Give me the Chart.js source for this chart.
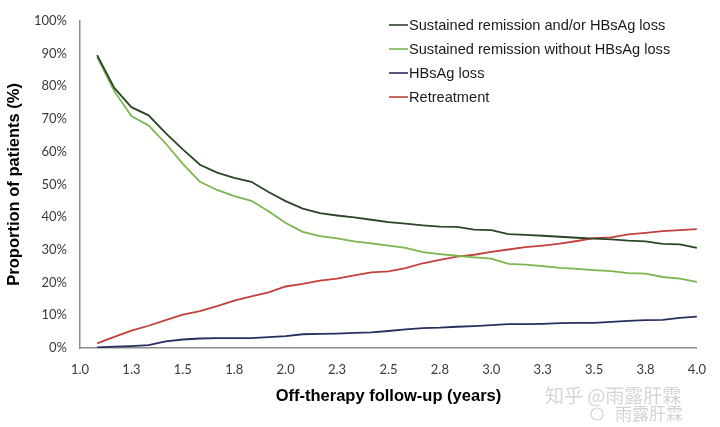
<!DOCTYPE html>
<html>
<head>
<meta charset="utf-8">
<script src="https://cdn.jsdelivr.net/npm/chart.js@4.4.1/dist/chart.umd.min.js"></script>
<style>
  html, body { margin: 0; padding: 0; background: #fff; }
  #chartContainer { width: 720px; height: 427px; }
</style>
</head>
<body>
<div id="chartContainer"><canvas id="followUpChart"></canvas></div>
<script>
// months after stopping therapy (one point per month)
const followUpMonths = [13, 14, 15, 16, 17, 18, 19, 20, 21, 22, 23, 24,
  25, 26, 27, 28, 29, 30, 31, 32, 33, 34, 35, 36,
  37, 38, 39, 40, 41, 42, 43, 44, 45, 46, 47, 48];

const remissionOrLoss = [89.5, 79.5, 73.6, 71.1, 65.7, 60.7, 56.0, 53.6, 52.0, 50.8, 47.7, 44.9,
  42.6, 41.2, 40.5, 39.9, 39.2, 38.5, 38.0, 37.5, 37.1, 37.0, 36.2, 36.0,
  34.8, 34.6, 34.3, 34.0, 33.7, 33.4, 33.2, 32.8, 32.6, 31.8, 31.7, 30.6];

const remissionNoLoss = [88.9, 78.5, 70.9, 68.0, 62.5, 56.3, 50.8, 48.3, 46.4, 45.0, 41.8, 38.2,
  35.5, 34.2, 33.5, 32.6, 32.0, 31.3, 30.6, 29.3, 28.7, 28.2, 27.7, 27.3,
  25.7, 25.5, 25.0, 24.5, 24.2, 23.8, 23.5, 22.9, 22.7, 21.7, 21.2, 20.2];

const hbsagLoss = [0.2, 0.4, 0.6, 0.9, 2.0, 2.6, 2.9, 3.0, 3.0, 3.0, 3.3, 3.6,
  4.2, 4.3, 4.4, 4.6, 4.8, 5.2, 5.7, 6.1, 6.2, 6.5, 6.7, 7.0,
  7.3, 7.3, 7.4, 7.6, 7.7, 7.7, 8.0, 8.3, 8.5, 8.6, 9.2, 9.6];

const retreatment = [1.4, 3.4, 5.3, 6.8, 8.5, 10.2, 11.3, 12.8, 14.5, 15.8, 17.0, 18.8,
  19.6, 20.6, 21.2, 22.2, 23.1, 23.4, 24.4, 25.9, 26.9, 27.9, 28.5, 29.4,
  30.1, 30.8, 31.3, 31.9, 32.7, 33.6, 33.8, 34.7, 35.2, 35.7, 36.0, 36.3];

const seriesNames = [
  "Sustained remission and/or HBsAg loss",
  "Sustained remission without HBsAg loss",
  "HBsAg loss",
  "Retreatment",
];

const xTicks = [1.0, 1.25, 1.5, 1.75, 2.0, 2.25, 2.5, 2.75, 3.0, 3.25, 3.5, 3.75, 4.0];
const xTickLabels = ["1.0", "1.3", "1.5", "1.8", "2.0", "2.3", "2.5", "2.8", "3.0", "3.3", "3.5", "3.8", "4.0"];
const yTickLabels = ["0%", "10%", "20%", "30%", "40%", "50%", "60%", "70%", "80%", "90%", "100%"];

function toPoints(values) {
  return values.map((v, i) => ({ x: followUpMonths[i] / 12, y: v }));
}

const colors = ["#2b4527", "#7db54f", "#262f5e", "#c2413c"];
const allSeries = [remissionOrLoss, remissionNoLoss, hbsagLoss, retreatment];

// legend drawn inside the plot, top right
const innerLegend = {
  id: "innerLegend",
  afterDraw(chart) {
    const ctx = chart.ctx;
    ctx.save();
    ctx.font = "14.6px 'Liberation Sans', Arial, sans-serif";
    ctx.textBaseline = "middle";
    chart.data.datasets.forEach((ds, i) => {
      const y = 25 + i * 24;
      ctx.strokeStyle = ds.borderColor;
      ctx.lineWidth = 1.6;
      ctx.beginPath();
      ctx.moveTo(389, y);
      ctx.lineTo(408, y);
      ctx.stroke();
      ctx.fillStyle = "#1a1a1a";
      ctx.fillText(ds.label, 409, y + 1);
    });
    ctx.restore();
  },
};

// faint watermark at the bottom right
const watermark = {
  id: "watermark",
  afterDraw(chart) {
    const ctx = chart.ctx;
    ctx.save();
    ctx.fillStyle = "rgba(160,160,160,0.45)";
    ctx.textBaseline = "middle";
    ctx.font = "19px 'Noto Sans CJK SC', sans-serif";
    ctx.fillText("知乎 @雨露肝霖", 545, 396);
    ctx.font = "17px 'Noto Sans CJK SC', sans-serif";
    ctx.fillText("雨露肝霖", 615, 414);
    ctx.strokeStyle = "rgba(160,160,160,0.45)";
    ctx.lineWidth = 1.2;
    ctx.beginPath();
    ctx.arc(597, 414, 6, 0, Math.PI * 2);
    ctx.stroke();
    ctx.restore();
  },
};

const ctx = document.getElementById("followUpChart").getContext("2d");
window.chart = new Chart(ctx, {
  type: "line",
  data: {
    datasets: allSeries.map((vals, i) => ({
      label: seriesNames[i],
      data: toPoints(vals),
      borderColor: colors[i],
      backgroundColor: colors[i],
      borderWidth: 1.8,
      pointRadius: 0,
      tension: 0,
      fill: false,
    })),
  },
  options: {
    responsive: true,
    maintainAspectRatio: false,
    animation: false,
    layout: { padding: { top: 11, right: 22, bottom: 0, left: 0 } },
    plugins: {
      legend: { display: false },
      tooltip: { enabled: false },
    },
    scales: {
      x: {
        type: "linear",
        min: 1.0,
        max: 4.0,
        afterBuildTicks: (scale) => {
          scale.ticks = xTicks.map((v) => ({ value: v }));
        },
        afterFit: (scale) => {
          scale.height = 79;
        },
        grid: { display: false, drawTicks: false },
        border: { display: true, color: "#8c8c8c", width: 1.5 },
        ticks: {
          padding: 14,
          maxRotation: 0,
          autoSkip: false,
          color: "#3a3a3a",
          font: { family: "Lato, 'Open Sans', sans-serif", size: 13 },
          callback: (value, index) => xTickLabels[index],
        },
        title: {
          display: true,
          text: "Off-therapy follow-up (years)",
          color: "#000",
          font: { family: "'Liberation Sans', Arial, sans-serif", size: 16.5, weight: "bold" },
          padding: { top: 0, bottom: 21 },
        },
      },
      y: {
        min: 0,
        max: 100,
        afterFit: (scale) => {
          scale.width = 80;
        },
        grid: { display: false, drawTicks: false },
        border: { display: true, color: "#8c8c8c", width: 1.5 },
        ticks: {
          stepSize: 10,
          padding: 13,
          color: "#3a3a3a",
          font: { family: "Lato, 'Open Sans', sans-serif", size: 13 },
          callback: (value, index) => yTickLabels[index],
        },
        title: {
          display: true,
          text: "Proportion of patients (%)",
          color: "#000",
          font: { family: "'Liberation Sans', Arial, sans-serif", size: 16.5, weight: "bold" },
          padding: { top: 5, bottom: 0 },
        },
      },
    },
  },
  plugins: [innerLegend, watermark],
});
</script>
</body>
</html>
